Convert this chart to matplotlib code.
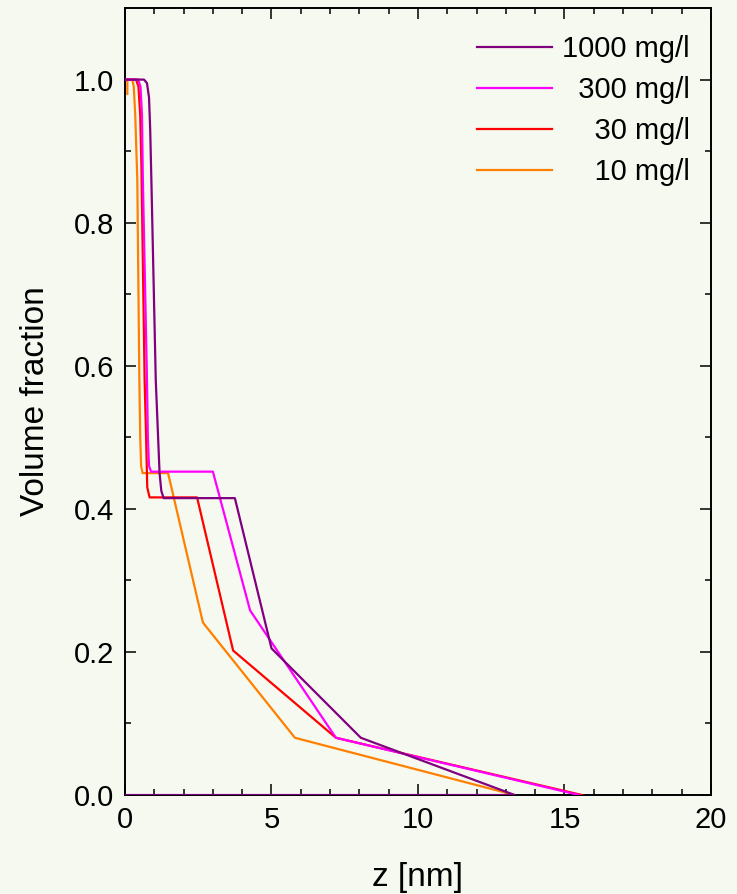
import matplotlib as mpl
import matplotlib.pyplot as plt
import numpy as np

mpl.rcParams['font.family'] = ['Liberation Sans', 'DejaVu Sans']
mpl.rcParams['font.size'] = 21

# volume fraction profiles (z in nm)
z_1000 = [0, 0.65, 0.75, 0.82, 0.86, 0.9, 1.05, 1.13, 1.18, 1.24, 1.32, 3.75, 5.0, 8.05, 13.3, 0]
v_1000 = [1.0, 1.0, 0.995, 0.975, 0.93, 0.86, 0.58, 0.5, 0.45, 0.425, 0.415, 0.415, 0.205, 0.08, 0.0, 0.0]

z_300 = [0, 0.45, 0.53, 0.58, 0.61, 0.75, 0.78, 0.82, 0.89, 3.0, 4.27, 7.2, 15.5]
v_300 = [1.0, 1.0, 0.99, 0.95, 0.86, 0.58, 0.5, 0.46, 0.452, 0.452, 0.258, 0.08, 0.0]

z_30 = [0, 0.38, 0.46, 0.52, 0.56, 0.67, 0.72, 0.76, 0.84, 2.46, 3.69, 7.2, 15.6]
v_30 = [1.0, 1.0, 0.99, 0.95, 0.88, 0.58, 0.5, 0.43, 0.416, 0.416, 0.202, 0.08, 0.0]

z_10 = [0.08, 0.08, 0.1, 0.25, 0.3, 0.35, 0.42, 0.49, 0.52, 0.55, 0.6, 1.47, 2.66, 5.8, 13.3]
v_10 = [0.98, 1.0, 1.0, 1.0, 0.99, 0.95, 0.86, 0.58, 0.5, 0.46, 0.45, 0.45, 0.241, 0.08, 0.0]

# figure spaces keep the labels right aligned
labels = ['1000 mg/l', '\u2007300 mg/l', '\u2007\u200730 mg/l', '\u2007\u200710 mg/l']
colors = ['#800080', '#ff00ff', '#ff0000', '#ff8000']

bg = '#f6f9ef'
fig = plt.figure(figsize=(7.37, 8.94), dpi=100, facecolor=bg)
ax = fig.add_axes([0.1696, 0.1107, 0.7951, 0.8803], facecolor=bg)

series = [(z_1000, v_1000), (z_300, v_300), (z_30, v_30), (z_10, v_10)]
for i, (z, v) in enumerate(series):
    ax.plot(z, v, color=colors[i], lw=1.6, zorder=5 - i, label=labels[i])

ax.set_xlim(0, 20)
ax.set_ylim(0, 1.1)
ax.set_xticks([0, 5, 10, 15, 20])
ax.set_xticks(np.arange(0, 21, 1), minor=True)
ax.set_yticks([0.0, 0.2, 0.4, 0.6, 0.8, 1.0])
ax.set_yticks(np.arange(0, 1.1, 0.1), minor=True)
ax.yaxis.set_major_formatter(mpl.ticker.FormatStrFormatter('%.1f'))
ax.tick_params(which='both', direction='in', top=True, right=True, width=1.1)
ax.tick_params(which='major', length=8, pad=8)
ax.tick_params(which='minor', length=4)
for s in ax.spines.values():
    s.set_linewidth(1.4)

ax.set_xlabel('z [nm]', fontsize=24, labelpad=20)
ax.set_ylabel('Volume fraction', fontsize=24, labelpad=16)

ax.legend(loc='upper right', bbox_to_anchor=(0.964, 0.966), frameon=False,
          borderaxespad=0, borderpad=0,
          handlelength=2.57, handletextpad=0.34, labelspacing=0.45)

fig.savefig('out.png', dpi=100, facecolor=bg)
